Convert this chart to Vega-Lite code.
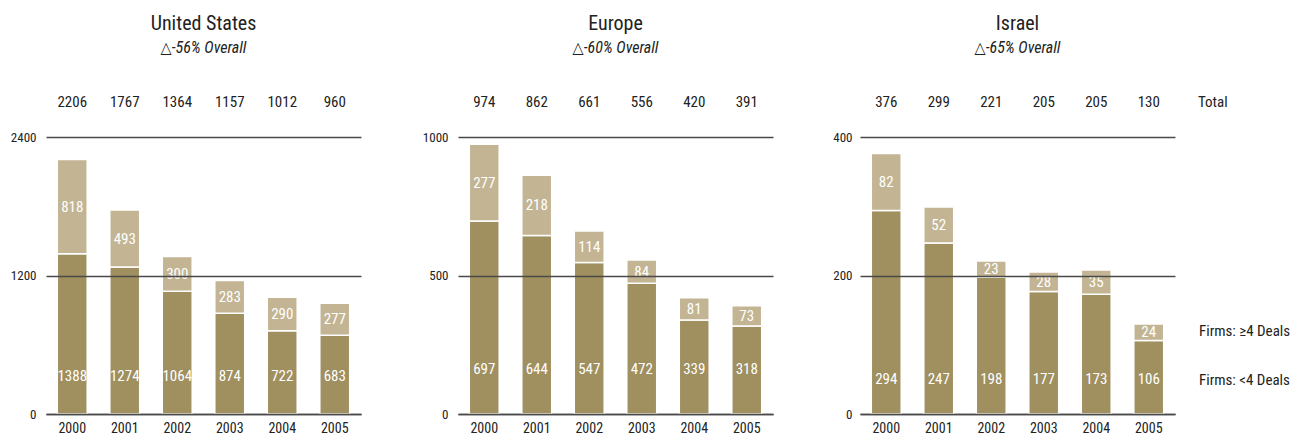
{
  "$schema": "https://vega.github.io/schema/vega-lite/v6.json",
  "padding": {"left": 6, "top": 14, "right": 5, "bottom": 5},
  "background": "white",
  "datasets": {
    "bars": [
      {"region": "United States", "year": "2000", "segment": "Firms: <4 Deals", "value": 1388},
      {"region": "United States", "year": "2000", "segment": "Firms: ≥4 Deals", "value": 818},
      {"region": "United States", "year": "2001", "segment": "Firms: <4 Deals", "value": 1274},
      {"region": "United States", "year": "2001", "segment": "Firms: ≥4 Deals", "value": 493},
      {"region": "United States", "year": "2002", "segment": "Firms: <4 Deals", "value": 1064},
      {"region": "United States", "year": "2002", "segment": "Firms: ≥4 Deals", "value": 300},
      {"region": "United States", "year": "2003", "segment": "Firms: <4 Deals", "value": 874},
      {"region": "United States", "year": "2003", "segment": "Firms: ≥4 Deals", "value": 283},
      {"region": "United States", "year": "2004", "segment": "Firms: <4 Deals", "value": 722},
      {"region": "United States", "year": "2004", "segment": "Firms: ≥4 Deals", "value": 290},
      {"region": "United States", "year": "2005", "segment": "Firms: <4 Deals", "value": 683},
      {"region": "United States", "year": "2005", "segment": "Firms: ≥4 Deals", "value": 277},
      {"region": "Europe", "year": "2000", "segment": "Firms: <4 Deals", "value": 697},
      {"region": "Europe", "year": "2000", "segment": "Firms: ≥4 Deals", "value": 277},
      {"region": "Europe", "year": "2001", "segment": "Firms: <4 Deals", "value": 644},
      {"region": "Europe", "year": "2001", "segment": "Firms: ≥4 Deals", "value": 218},
      {"region": "Europe", "year": "2002", "segment": "Firms: <4 Deals", "value": 547},
      {"region": "Europe", "year": "2002", "segment": "Firms: ≥4 Deals", "value": 114},
      {"region": "Europe", "year": "2003", "segment": "Firms: <4 Deals", "value": 472},
      {"region": "Europe", "year": "2003", "segment": "Firms: ≥4 Deals", "value": 84},
      {"region": "Europe", "year": "2004", "segment": "Firms: <4 Deals", "value": 339},
      {"region": "Europe", "year": "2004", "segment": "Firms: ≥4 Deals", "value": 81},
      {"region": "Europe", "year": "2005", "segment": "Firms: <4 Deals", "value": 318},
      {"region": "Europe", "year": "2005", "segment": "Firms: ≥4 Deals", "value": 73},
      {"region": "Israel", "year": "2000", "segment": "Firms: <4 Deals", "value": 294},
      {"region": "Israel", "year": "2000", "segment": "Firms: ≥4 Deals", "value": 82},
      {"region": "Israel", "year": "2001", "segment": "Firms: <4 Deals", "value": 247},
      {"region": "Israel", "year": "2001", "segment": "Firms: ≥4 Deals", "value": 52},
      {"region": "Israel", "year": "2002", "segment": "Firms: <4 Deals", "value": 198},
      {"region": "Israel", "year": "2002", "segment": "Firms: ≥4 Deals", "value": 23},
      {"region": "Israel", "year": "2003", "segment": "Firms: <4 Deals", "value": 177},
      {"region": "Israel", "year": "2003", "segment": "Firms: ≥4 Deals", "value": 28},
      {"region": "Israel", "year": "2004", "segment": "Firms: <4 Deals", "value": 173},
      {"region": "Israel", "year": "2004", "segment": "Firms: ≥4 Deals", "value": 35},
      {"region": "Israel", "year": "2005", "segment": "Firms: <4 Deals", "value": 106},
      {"region": "Israel", "year": "2005", "segment": "Firms: ≥4 Deals", "value": 24}
    ],
    "totals": [
      {"region": "United States", "year": "2000", "total": 2206},
      {"region": "United States", "year": "2001", "total": 1767},
      {"region": "United States", "year": "2002", "total": 1364},
      {"region": "United States", "year": "2003", "total": 1157},
      {"region": "United States", "year": "2004", "total": 1012},
      {"region": "United States", "year": "2005", "total": 960},
      {"region": "Europe", "year": "2000", "total": 974},
      {"region": "Europe", "year": "2001", "total": 862},
      {"region": "Europe", "year": "2002", "total": 661},
      {"region": "Europe", "year": "2003", "total": 556},
      {"region": "Europe", "year": "2004", "total": 420},
      {"region": "Europe", "year": "2005", "total": 391},
      {"region": "Israel", "year": "2000", "total": 376},
      {"region": "Israel", "year": "2001", "total": 299},
      {"region": "Israel", "year": "2002", "total": 221},
      {"region": "Israel", "year": "2003", "total": 205},
      {"region": "Israel", "year": "2004", "total": 205},
      {"region": "Israel", "year": "2005", "total": 130}
    ]
  },
  "spacing": 52,
  "resolve": {"legend": {"color": "independent"}},
  "hconcat": [
    {
      "width": 315, "height": 277,
      "title": {"text": "United States", "subtitle": "△-56% Overall"},
      "layer": [
        {
          "data": {"name": "bars"},
          "transform": [
            {"filter": "datum.region === 'United States'"},
            {"stack": "value", "groupby": ["year"], "sort": [{"field": "segment", "order": "ascending"}], "as": ["v0", "v1"]},
            {"calculate": "(datum.v0 + datum.v1) / 2", "as": "mid"}
          ],
          "layer": [
            {
              "mark": {"type": "bar", "stroke": "white", "strokeWidth": 1.5},
              "encoding": {
                "x": {"field": "year", "type": "ordinal", "scale": {"paddingInner": 0.43, "paddingOuter": 0.215}, "axis": {"title": null, "ticks": false, "labelAngle": 0, "domainColor": "#444", "domainWidth": 1.5, "labelPadding": 7, "labelFontSize": 14, "labelColor": "#222"}},
                "y": {"field": "v1", "type": "quantitative", "scale": {"domain": [0, 2400]}, "axis": {"title": null, "format": "d", "values": [0, 1200, 2400], "domain": false, "ticks": false, "grid": true, "gridColor": "#4a4a4a", "gridWidth": 1.5, "zindex": 1, "labelPadding": 10, "minExtent": 40, "maxExtent": 40, "labelFontSize": 13, "labelColor": "#222"}},
                "y2": {"field": "v0"},
                "color": {"field": "segment", "type": "nominal", "scale": {"domain": ["Firms: ≥4 Deals", "Firms: <4 Deals"], "range": ["#C3B593", "#A08F5F"]}, "legend": null}
              }
            },
            {
              "transform": [{"filter": "datum.segment === 'Firms: ≥4 Deals'"}],
              "mark": {"type": "text", "color": "white", "fontSize": 15, "baseline": "middle"},
              "encoding": {"x": {"field": "year", "type": "ordinal"}, "y": {"field": "mid", "type": "quantitative"}, "text": {"field": "value"}}
            },
            {
              "transform": [{"filter": "datum.segment === 'Firms: <4 Deals'"}],
              "mark": {"type": "text", "color": "white", "fontSize": 15, "baseline": "middle", "dy": -38},
              "encoding": {"x": {"field": "year", "type": "ordinal"}, "y": {"field": "v0", "type": "quantitative"}, "text": {"field": "value"}}
            }
          ]
        },
        {
          "data": {"name": "totals"},
          "transform": [{"filter": "datum.region === 'United States'"}],
          "mark": {"type": "text", "fontSize": 15, "color": "#222", "baseline": "middle", "dy": -35},
          "encoding": {"x": {"field": "year", "type": "ordinal"}, "y": {"datum": 2400}, "text": {"field": "total"}}
        }
      ]
    },
    {
      "width": 315, "height": 277,
      "title": {"text": "Europe", "subtitle": "△-60% Overall"},
      "layer": [
        {
          "data": {"name": "bars"},
          "transform": [
            {"filter": "datum.region === 'Europe'"},
            {"stack": "value", "groupby": ["year"], "sort": [{"field": "segment", "order": "ascending"}], "as": ["v0", "v1"]},
            {"calculate": "(datum.v0 + datum.v1) / 2", "as": "mid"}
          ],
          "layer": [
            {
              "mark": {"type": "bar", "stroke": "white", "strokeWidth": 1.5},
              "encoding": {
                "x": {"field": "year", "type": "ordinal", "scale": {"paddingInner": 0.43, "paddingOuter": 0.215}, "axis": {"title": null, "ticks": false, "labelAngle": 0, "domainColor": "#444", "domainWidth": 1.5, "labelPadding": 7, "labelFontSize": 14, "labelColor": "#222"}},
                "y": {"field": "v1", "type": "quantitative", "scale": {"domain": [0, 1000]}, "axis": {"title": null, "format": "d", "values": [0, 500, 1000], "domain": false, "ticks": false, "grid": true, "gridColor": "#4a4a4a", "gridWidth": 1.5, "zindex": 1, "labelPadding": 10, "minExtent": 45, "maxExtent": 45, "labelFontSize": 13, "labelColor": "#222"}},
                "y2": {"field": "v0"},
                "color": {"field": "segment", "type": "nominal", "scale": {"domain": ["Firms: ≥4 Deals", "Firms: <4 Deals"], "range": ["#C3B593", "#A08F5F"]}, "legend": null}
              }
            },
            {
              "transform": [{"filter": "datum.segment === 'Firms: ≥4 Deals'"}],
              "mark": {"type": "text", "color": "white", "fontSize": 15, "baseline": "middle"},
              "encoding": {"x": {"field": "year", "type": "ordinal"}, "y": {"field": "mid", "type": "quantitative"}, "text": {"field": "value"}}
            },
            {
              "transform": [{"filter": "datum.segment === 'Firms: <4 Deals'"}],
              "mark": {"type": "text", "color": "white", "fontSize": 15, "baseline": "middle", "dy": -45},
              "encoding": {"x": {"field": "year", "type": "ordinal"}, "y": {"field": "v0", "type": "quantitative"}, "text": {"field": "value"}}
            }
          ]
        },
        {
          "data": {"name": "totals"},
          "transform": [{"filter": "datum.region === 'Europe'"}],
          "mark": {"type": "text", "fontSize": 15, "color": "#222", "baseline": "middle", "dy": -35},
          "encoding": {"x": {"field": "year", "type": "ordinal"}, "y": {"datum": 1000}, "text": {"field": "total"}}
        }
      ]
    },
    {
      "width": 315, "height": 277,
      "title": {"text": "Israel", "subtitle": "△-65% Overall"},
      "layer": [
        {
          "data": {"name": "bars"},
          "transform": [
            {"filter": "datum.region === 'Israel'"},
            {"stack": "value", "groupby": ["year"], "sort": [{"field": "segment", "order": "ascending"}], "as": ["v0", "v1"]},
            {"calculate": "(datum.v0 + datum.v1) / 2", "as": "mid"}
          ],
          "layer": [
            {
              "mark": {"type": "bar", "stroke": "white", "strokeWidth": 1.5},
              "encoding": {
                "x": {"field": "year", "type": "ordinal", "scale": {"paddingInner": 0.43, "paddingOuter": 0.215}, "axis": {"title": null, "ticks": false, "labelAngle": 0, "domainColor": "#444", "domainWidth": 1.5, "labelPadding": 7, "labelFontSize": 14, "labelColor": "#222"}},
                "y": {"field": "v1", "type": "quantitative", "scale": {"domain": [0, 400]}, "axis": {"title": null, "format": "d", "values": [0, 200, 400], "domain": false, "ticks": false, "grid": true, "gridColor": "#4a4a4a", "gridWidth": 1.5, "zindex": 1, "labelPadding": 8, "minExtent": 35, "maxExtent": 35, "labelFontSize": 13, "labelColor": "#222"}},
                "y2": {"field": "v0"},
                "color": {"field": "segment", "type": "nominal", "scale": {"domain": ["Firms: ≥4 Deals", "Firms: <4 Deals"], "range": ["#C3B593", "#A08F5F"]},
                  "legend": {"orient": "none", "legendX": 338, "legendY": -42, "title": "Total", "titleFontSize": 15, "titleFontWeight": "normal", "titleColor": "#222", "titlePadding": 213, "labelFontSize": 15, "labelColor": "#222", "labelLimit": 200, "symbolSize": 0, "symbolStrokeWidth": 0, "symbolOpacity": 0, "labelOffset": -14, "rowPadding": 33}}
              }
            },
            {
              "transform": [{"filter": "datum.segment === 'Firms: ≥4 Deals'"}],
              "mark": {"type": "text", "color": "white", "fontSize": 15, "baseline": "middle"},
              "encoding": {"x": {"field": "year", "type": "ordinal"}, "y": {"field": "mid", "type": "quantitative"}, "text": {"field": "value"}}
            },
            {
              "transform": [{"filter": "datum.segment === 'Firms: <4 Deals'"}],
              "mark": {"type": "text", "color": "white", "fontSize": 15, "baseline": "middle", "dy": -35},
              "encoding": {"x": {"field": "year", "type": "ordinal"}, "y": {"field": "v0", "type": "quantitative"}, "text": {"field": "value"}}
            }
          ]
        },
        {
          "data": {"name": "totals"},
          "transform": [{"filter": "datum.region === 'Israel'"}],
          "mark": {"type": "text", "fontSize": 15, "color": "#222", "baseline": "middle", "dy": -35},
          "encoding": {"x": {"field": "year", "type": "ordinal"}, "y": {"datum": 400}, "text": {"field": "total"}}
        }
      ]
    }
  ],
  "config": {
    "font": "Liberation Sans Narrow, Roboto Condensed, DejaVu Sans Condensed, sans-serif",
    "view": {"stroke": null},
    "title": {"fontSize": 20, "fontWeight": "normal", "color": "#222", "subtitleFontSize": 16, "subtitleFontStyle": "italic", "subtitleColor": "#222", "offset": 39, "subtitlePadding": 6, "anchor": "middle"}
  }
}
